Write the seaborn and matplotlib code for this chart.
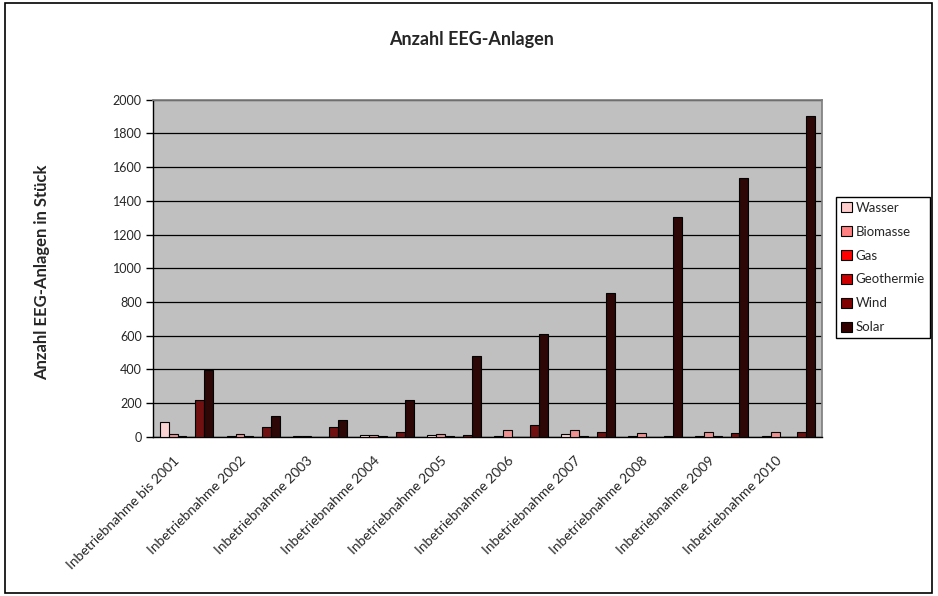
import seaborn as sns
import matplotlib.pyplot as plt
import pandas as pd
from matplotlib.patches import Rectangle, Patch
from matplotlib.ticker import FixedLocator

sns.set_theme(style="white")
plt.rcParams["font.family"] = ["Lato", "DejaVu Sans"]

# Data
jahre = ["Inbetriebnahme bis 2001", "Inbetriebnahme 2002", "Inbetriebnahme 2003",
         "Inbetriebnahme 2004", "Inbetriebnahme 2005", "Inbetriebnahme 2006",
         "Inbetriebnahme 2007", "Inbetriebnahme 2008", "Inbetriebnahme 2009",
         "Inbetriebnahme 2010"]
wasser = [90, 3, 5, 8, 10, 5, 15, 3, 5, 3]
biomasse = [15, 18, 7, 8, 14, 42, 39, 22, 25, 29]
gas = [4, 3, 0, 3, 3, 0, 3, 0, 2, 0]
geothermie = [0, 0, 0, 0, 0, 0, 0, 0, 0, 0]
wind = [220, 57, 57, 30, 12, 67, 29, 3, 23, 30]
solar = [395, 121, 97, 220, 476, 608, 851, 1302, 1537, 1903]

traeger = ["Wasser", "Biomasse", "Gas", "Geothermie", "Wind", "Solar"]
farben = ["#FFCCCC", "#FF8080", "#FF0000", "#CC0000", "#800000", "#330000"]

werte = {"Wasser": wasser, "Biomasse": biomasse, "Gas": gas,
         "Geothermie": geothermie, "Wind": wind, "Solar": solar}
df = pd.DataFrame([
    {"Jahr": j, "Traeger": t, "Anzahl": werte[t][i]}
    for t in traeger for i, j in enumerate(jahre)
])

fig = plt.figure(figsize=(9.38, 5.96), dpi=100)
ax = fig.add_axes([153 / 938, 1 - 436.7 / 596, (822 - 153) / 938, (436.7 - 99.7) / 596])
ax.set_facecolor("#C0C0C0")

sns.barplot(data=df, x="Jahr", y="Anzahl", hue="Traeger", hue_order=traeger,
            order=jahre, palette=farben, edgecolor="black", linewidth=0.8,
            width=0.8, ax=ax, legend=False, zorder=3)

ax.set_ylim(0, 2000)
ax.set_xlim(-0.5, len(jahre) - 0.5)
ax.set_yticks(range(0, 2001, 200))
ax.yaxis.grid(True, color="black", linewidth=0.9, zorder=1)
ax.set_axisbelow(True)

# group borders as ticks; labels end slightly left of the group centre
ax.set_xticks([i - 0.2 for i in range(len(jahre))])
ax.set_xticklabels(jahre, rotation=45, ha="right", rotation_mode="anchor", fontsize=10)
ax.xaxis.set_minor_locator(FixedLocator([i - 0.5 for i in range(len(jahre) + 1)]))
ax.tick_params(axis="x", which="major", length=0, pad=13)
ax.tick_params(axis="x", which="minor", length=5, width=1, direction="out", color="black")
ax.tick_params(axis="y", length=5, width=1, direction="out", color="black", labelsize=9, pad=3)
ax.tick_params(left=True, bottom=True)

for s in ["top", "right"]:
    ax.spines[s].set_color("#808080")
for s in ["left", "bottom"]:
    ax.spines[s].set_color("black")
    ax.spines[s].set_linewidth(1.0)

ax.set_xlabel("")
ax.set_ylabel("")
fig.text(42 / 938, 1 - 272.5 / 596, "Anzahl EEG-Anlagen in Stück", rotation=90,
         ha="center", va="center", fontsize=12, fontweight="bold")
fig.text(472 / 938, 1 - 39 / 596, "Anzahl EEG-Anlagen", ha="center", va="center",
         fontsize=13, fontweight="bold")

handles = [Patch(facecolor=c, edgecolor="black", linewidth=0.8, label=t)
           for t, c in zip(traeger, farben)]
fig.legend(handles=handles, loc="center left",
           bbox_to_anchor=(836 / 938, 1 - 267.5 / 596), fontsize=9.5,
           frameon=True, fancybox=False, edgecolor="black", framealpha=1,
           handlelength=0.8, handleheight=0.8, handletextpad=0.3,
           labelspacing=0.9, borderpad=0.4, borderaxespad=0)

fig.patches.append(Rectangle((5 / 938, 3 / 596), 927 / 938, 590 / 596,
                             transform=fig.transFigure, fill=False,
                             edgecolor="black", linewidth=1.2))

plt.savefig("out.png", dpi=100)
